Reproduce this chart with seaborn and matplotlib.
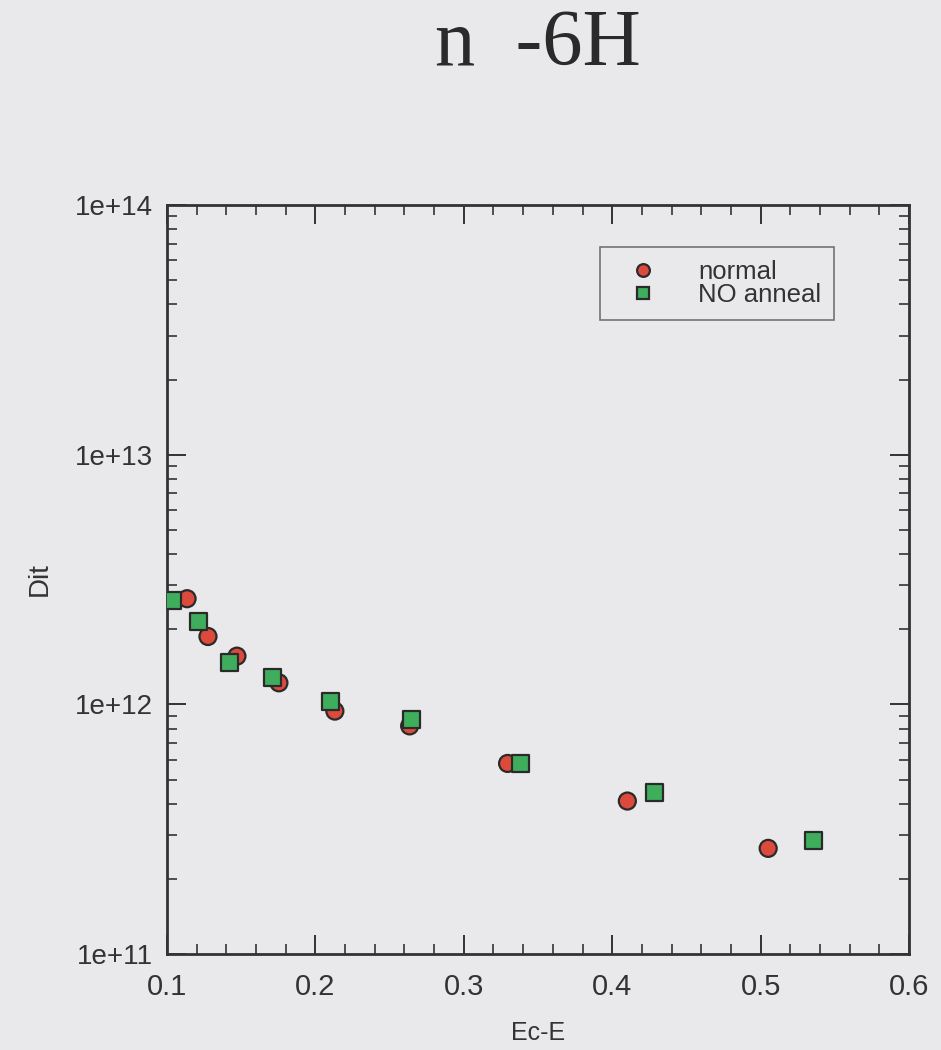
import numpy as np
import pandas as pd
import matplotlib
matplotlib.use("Agg")
import matplotlib.pyplot as plt
import matplotlib.ticker as mticker
import seaborn as sns

# ---- data ----
normal_x = [0.1135, 0.1276, 0.1471, 0.1754, 0.2131, 0.2635, 0.3295, 0.4102, 0.5051]
normal_y = [2.65e12, 1.87e12, 1.56e12, 1.22e12, 9.4e11, 8.2e11, 5.8e11, 4.1e11, 2.65e11]
anneal_x = [0.1040, 0.1209, 0.1424, 0.1713, 0.2104, 0.2649, 0.3382, 0.4284, 0.5354]
anneal_y = [2.61e12, 2.15e12, 1.47e12, 1.28e12, 1.03e12, 8.7e11, 5.8e11, 4.45e11, 2.86e11]
series_names = ["normal", "NO anneal"]
x_ticks = [0.1, 0.2, 0.3, 0.4, 0.5, 0.6]
y_ticks = [1e11, 1e12, 1e13, 1e14]
title_text = "n  -6H"
x_label = "Ec-E"
y_label = "Dit"

df = pd.DataFrame({
    "x": normal_x + anneal_x,
    "y": normal_y + anneal_y,
    "series": [series_names[0]] * len(normal_x) + [series_names[1]] * len(anneal_x),
})

bg = "#e9e9ec"
sns.set_theme(style="ticks")
plt.rcParams["font.family"] = ["Liberation Sans", "DejaVu Sans"]

fig = plt.figure(figsize=(9.41, 10.5), dpi=100, facecolor=bg)
ax = fig.add_axes([0.1775, 0.0914, 0.7885, 0.7133])
ax.set_facecolor(bg)

palette = {"normal": "#dc4a3c", "NO anneal": "#3fae5c"}
markers = {"normal": "o", "NO anneal": "s"}
sns.scatterplot(data=df, x="x", y="y", hue="series", style="series",
                palette=palette, markers=markers, s=150,
                edgecolor="#2a2a2a", linewidth=1.6, ax=ax, zorder=3)

ax.set_yscale("log")
ax.set_xlim(0.1, 0.6)
ax.set_ylim(1e11, 1e14)
ax.set_xticks(x_ticks)
ax.xaxis.set_major_formatter(mticker.FuncFormatter(lambda v, p: f"{v:.1f}"))
ax.xaxis.set_minor_locator(mticker.MultipleLocator(0.02))
ax.set_yticks(y_ticks)
ax.yaxis.set_major_formatter(mticker.FuncFormatter(lambda v, p: f"1e+{int(round(np.log10(v)))}"))
ax.yaxis.set_minor_locator(mticker.LogLocator(base=10, subs=np.arange(2, 10)))
ax.yaxis.set_minor_formatter(mticker.NullFormatter())

ax.tick_params(which="both", direction="in", top=True, right=True, colors="#333333",
               labelcolor="#333333")
ax.tick_params(which="major", length=14, width=1.4, labelsize=20, pad=10)
ax.tick_params(axis="x", which="major", labelsize=21, pad=14)
ax.tick_params(which="minor", length=7, width=1.2)
for sp in ax.spines.values():
    sp.set_linewidth(2)
    sp.set_color("#333333")

ax.set_xlabel(x_label, fontsize=18, color="#333333", labelpad=14)
ax.set_ylabel(y_label, fontsize=20, color="#333333", labelpad=16)

leg = ax.legend(loc="upper left", bbox_to_anchor=(0.584, 0.944), fontsize=18.5,
                frameon=True, fancybox=False, markerscale=0.75, handletextpad=0.95,
                borderpad=0.5, labelspacing=-0.03, handlelength=2.35, borderaxespad=0)
leg.get_frame().set_edgecolor("#555555")
leg.get_frame().set_facecolor(bg)
leg.get_frame().set_linewidth(1.2)
for t in leg.get_texts():
    t.set_color("#333333")

fig.text(538 / 941, 1 - 46 / 1050, title_text, ha="center", va="center",
         fontsize=58, family=["Liberation Serif", "DejaVu Serif"], color="#2a2a2a")

fig.savefig("out.png", dpi=100, facecolor=bg)
